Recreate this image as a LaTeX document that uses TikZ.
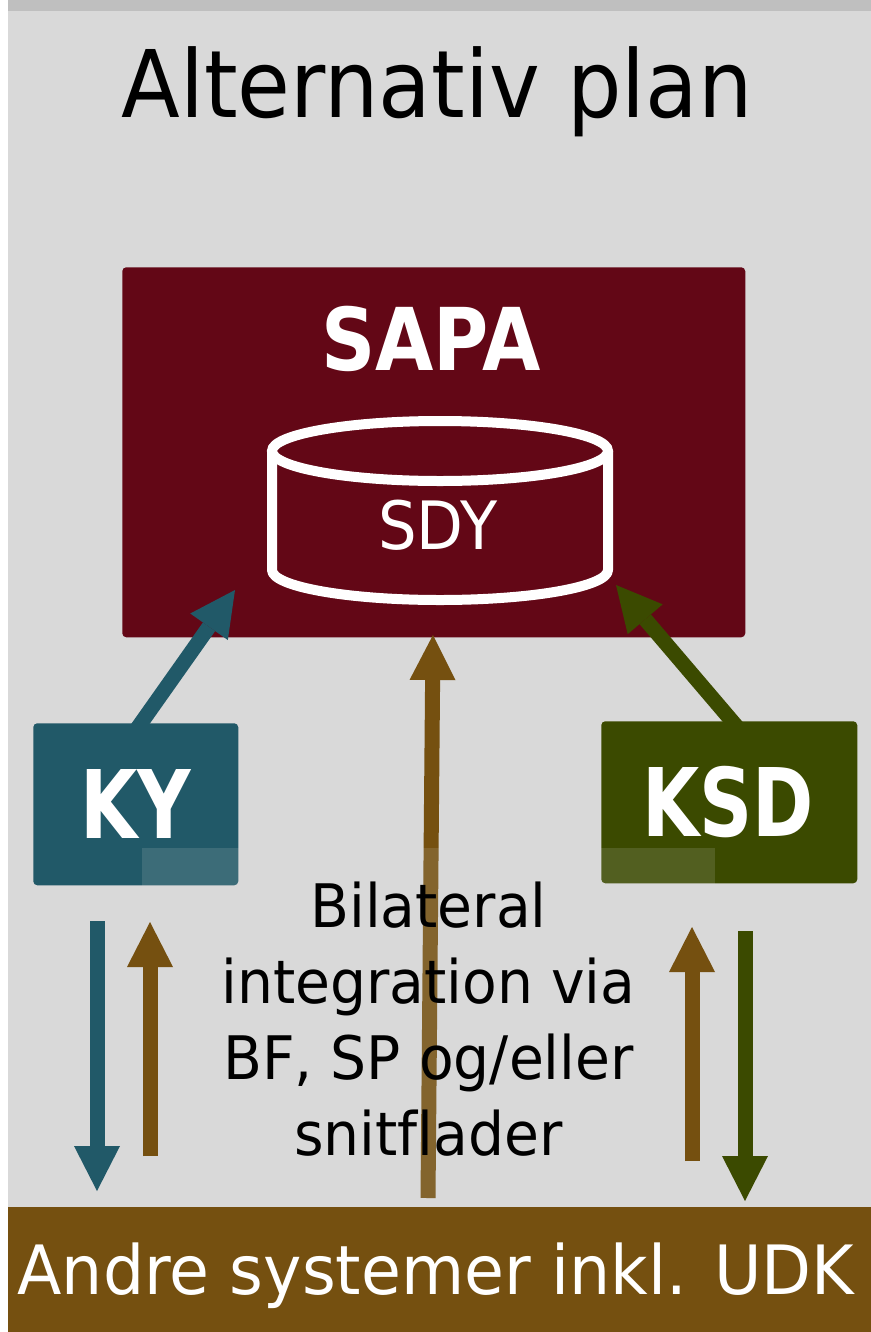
\documentclass[tikz,border=0pt]{standalone}
\usepackage{fontspec}
\setmainfont[FakeStretch=0.92]{DejaVu Sans}
\newfontfamily\bodyfont[FakeStretch=0.946, Ligatures=NoCommon]{DejaVu Sans}
\newfontfamily\bandfont[FakeStretch=0.954]{DejaVu Sans}
\newfontfamily\cylfont[FakeStretch=0.913]{DejaVu Sans}
\newfontfamily\sapafont[FakeStretch=0.87]{DejaVu Sans}
\newfontfamily\tagfont[FakeStretch=0.78]{DejaVu Sans}
\usetikzlibrary{arrows.meta}
\definecolor{panelgray}{HTML}{D9D9D9}
\definecolor{bandgray}{HTML}{BFBFBF}
\definecolor{sapared}{HTML}{630716}
\definecolor{kyblue}{HTML}{215968}
\definecolor{ksdgreen}{HTML}{3B4A00}
\definecolor{udkbrown}{HTML}{755010}
\tikzset{
	flow/.style={line width=11.25pt, -{Triangle[length=33.75pt, width=34.5pt, line width=0pt]}},
	sysbox/.style={rounded corners=3pt, inner sep=0pt, text=white, anchor=north west},
	boxtext/.style={text=white, font=\tagfont\fontsize{71}{71}\selectfont\bfseries}
}
\begin{document}
\begin{tikzpicture}[x=0.75pt, y=-0.75pt]
	\useasboundingbox (0,0) rectangle (871,1332);
	% First the backdrop
	\fill[white] (0,0) rectangle (871,1332);
	\fill[panelgray] (8,11) rectangle (871,1332);
	\fill[bandgray] (8,0) rectangle (871,11);
	\node (title) at (437,92) {\fontsize{70}{70}\selectfont Alternativ plan};

	% Now the boxes
	\node[sysbox, fill=sapared, minimum width=467.25pt, minimum height=277.5pt] (sapa) at (122,267) {};
	\node[sysbox, fill=kyblue, minimum width=153.75pt, minimum height=121.5pt] (ky) at (33,723) {};
	\node[sysbox, fill=ksdgreen, minimum width=192pt, minimum height=121.5pt] (ksd) at (601,721) {};
	\node[sysbox, fill=udkbrown, rounded corners=0pt, minimum width=647.25pt, minimum height=93.75pt] (udk) at (8,1207) {};
	\node[boxtext, font=\sapafont\fontsize{65}{65}\selectfont\bfseries] at (431,339) (sapalabel) {SAPA};
	\node[boxtext] at (136,804) (kylabel) {KY};
	\node[boxtext] at (728,802) (ksdlabel) {KSD};
	\node[text=white, font=\bandfont\fontsize{51}{51}\selectfont] at (436,1276) (udklabel) {Andre systemer inkl. UDK};

	% Now the database
	\draw[white, line width=7.5pt, line join=round] (272,451) -- (272,570) arc[start angle=180, end angle=0, x radius=168, y radius=30] -- (608,451);
	\draw[white, line width=7.5pt] (440,451) ellipse[x radius=168, y radius=30];
	\node[text=white, font=\cylfont\fontsize{50}{50}\selectfont] at (438,525) (sdy) {SDY};

	% The long arrow goes under the text box
	\coordinate (midfoot) at (428,1198);
	\coordinate (midtip) at (433,635);
	\draw[flow, udkbrown] (midfoot) -- (midtip);
	\node[fill=panelgray, fill opacity=0.15, text opacity=1, minimum width=429.75pt, minimum height=262.5pt, align=center,
		font=\bodyfont\fontsize{45}{57}\selectfont] (bilateral) at (428.5,1023)
		{Bilateral\\integration via\\BF, SP og/eller\\snitflader\rule[-6pt]{0pt}{6pt}};

	% Now the arrows
	\coordinate (kytop) at (134,733);
	\coordinate (kytip) at (235,590);
	\coordinate (ksdtop) at (740.5,731);
	\coordinate (ksdtip) at (616,585);
	\draw[flow, kyblue] (kytop) -- (kytip);
	\draw[flow, ksdgreen] (ksdtop) -- (ksdtip);
	\coordinate (kyout) at (97,921);
	\coordinate (kyoutend) at (97,1191);
	\coordinate (kyin) at (150,1156);
	\coordinate (kyinend) at (150,922);
	\coordinate (ksdin) at (692,1161);
	\coordinate (ksdinend) at (692,927);
	\coordinate (ksdout) at (745,931);
	\coordinate (ksdoutend) at (745,1201);
	\draw[flow, kyblue] (kyout) -- (kyoutend);
	\draw[flow, udkbrown] (kyin) -- (kyinend);
	\draw[flow, udkbrown] (ksdin) -- (ksdinend);
	\draw[flow, ksdgreen] (ksdout) -- (ksdoutend);
\end{tikzpicture}
\end{document}
